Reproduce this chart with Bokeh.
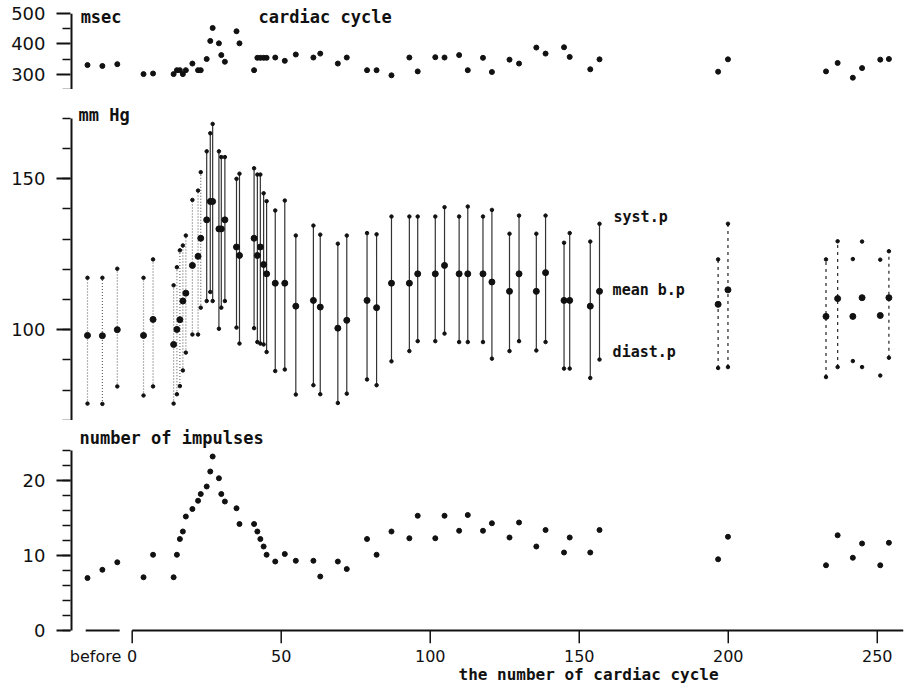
import numpy as np
from bokeh.plotting import figure
from bokeh.layouts import column
from bokeh.models import ColumnDataSource, FixedTicker, Range1d, Label, Title
from bokeh.embed import file_html
from bokeh.resources import INLINE

# ---- data -------------------------------------------------------------
# cardiac cycle number (negative values = cycles recorded "before")
cycle = [-15, -10, -5, 3.8, 7.0, 13.9, 15.0, 16.0, 17.0, 18.0, 20.2, 22.1, 23.0,
         25.0, 26.2, 27.0, 29.1, 29.9, 31.1, 35.0, 36.0, 40.9, 42.0, 43.0, 44.1,
         45.1, 48.0, 51.2, 54.9, 60.8, 63.1, 69.0, 72.0, 78.8, 82.0, 87.0, 93.0,
         95.8, 101.7, 104.8, 109.7, 112.6, 117.7, 120.7, 126.6, 129.8, 135.6,
         138.7, 144.9, 146.8, 153.7, 156.8, 196.6, 199.9, 232.8, 236.7, 241.8,
         244.9, 251.0, 253.9]

# duration of the cardiac cycle, msec
cycle_msec = [330, 327, 333, 300, 302, 300, 313, 313, 300, 313, 335, 313, 313,
              350, 410, 453, 402, 363, 341, 442, 402, 313, 354, 354, 354,
              354, 355, 344, 365, 355, 368, 335, 355, 313, 313, 296, 355,
              309, 356, 355, 363, 313, 354, 307, 348, 335, 388,
              368, 389, 357, 316, 349, 308, 349, 309, 337, 288,
              320, 348, 350]

# blood pressure, mm Hg
syst_p = [117.2, 117.2, 120.2, 117.2, 123.3, 114.7, 120.7, 126.3, 127.9, 131.2, 143.0, 146.1, 152.2,
          159.1, 165.1, 168.2, 159.1, 157.2, 157.2, 150.0, 151.7, 153.5, 151.4, 151.4, 145.2,
          142.6, 139.5, 142.8, 131.2, 134.5, 131.5, 128.5, 131.2, 132.0, 131.6, 137.5, 137.5,
          137.5, 137.5, 140.6, 137.5, 140.8, 137.5, 139.7, 131.8, 137.8, 131.8,
          137.8, 128.8, 132.0, 129.2, 135.1, 123.3, 135.1, 123.3, 129.3, 123.4,
          129.2, 123.2, 126.0]
mean_bp = [98.1, 98.0, 100.0, 98.1, 103.4, 95.1, 100.1, 103.3, 109.5, 112.1, 121.3, 124.3, 130.3,
           136.4, 142.5, 142.5, 133.4, 133.4, 136.4, 127.4, 124.6, 130.3, 124.6, 127.4, 121.6,
           118.5, 115.4, 115.4, 107.8, 109.7, 107.5, 100.5, 103.1, 109.7, 107.3, 115.4, 115.4,
           118.5, 118.5, 121.3, 118.5, 118.5, 118.5, 115.8, 112.7, 118.5, 112.7,
           118.9, 109.7, 109.7, 107.8, 112.7, 108.4, 113.2, 104.4, 110.3, 104.4,
           110.6, 104.7, 110.6]
diast_p = [75.5, 75.4, 81.2, 78.2, 81.2, 75.5, 78.6, 81.3, 86.5, 92.4, 98.4, 98.4, 107.3,
           109.5, 112.5, 109.5, 100.3, 107.3, 109.5, 100.7, 95.4, 100.5, 95.9, 95.4, 95.1,
           92.6, 86.3, 86.8, 78.5, 81.6, 78.6, 75.7, 78.8, 83.5, 81.6, 89.5, 92.9,
           96.2, 96.2, 98.7, 95.9, 95.9, 95.9, 90.4, 92.9, 96.2, 93.1,
           95.9, 87.1, 87.1, 84.0, 90.1, 87.3, 87.6, 84.3, 87.6, 89.6,
           87.6, 84.8, 90.7]

# cycles whose pressure trace between the extremes was not legible
trace_lost = [241.8, 244.9, 251.0]

# number of nerve impulses per cycle
impulses = [7.0, 8.1, 9.1, 7.1, 10.1, 7.1, 10.1, 12.2, 13.2, 15.2, 16.2, 17.3, 18.2,
            19.2, 21.2, 23.2, 20.3, 18.2, 17.2, 16.3, 14.2, 14.2, 13.2, 12.2, 11.2,
            10.1, 9.2, 10.2, 9.3, 9.3, 7.2, 9.2, 8.2, 12.2, 10.1, 13.2, 12.3,
            15.3, 12.3, 15.3, 13.3, 15.4, 13.3, 14.3, 12.4, 14.4, 11.2,
            13.4, 10.4, 12.4, 10.4, 13.4, 9.5, 12.5, 8.7, 12.7, 9.7,
            11.6, 8.7, 11.7]

x_ticks = [0, 50, 100, 150, 200, 250]
before_tick = -12.3

msec_ticks, msec_minor = [300, 400, 500], [250, 350, 450]
bp_ticks, bp_minor = [100, 150], list(range(70, 171, 10))
imp_ticks, imp_minor = [0, 10, 20], list(range(0, 25, 2))

# ---- styling ----------------------------------------------------------
INK = "#111111"
LETTER = "DejaVu Sans Mono"
NUM = "DejaVu Sans"
X_START, X_END = -20.7, 258.8
xr = Range1d(X_START, X_END)

src = ColumnDataSource(dict(cycle=cycle, msec=cycle_msec, syst=syst_p,
                            mean=mean_bp, diast=diast_p, imp=impulses))


def panel(height, y0, y1, bottom, ticks, minor, below=False):
    p = figure(width=905, height=height, x_range=xr, y_range=Range1d(y0, y1),
               output_backend="svg", toolbar_location=None,
               x_axis_location="below" if below else None,
               min_border_left=70, min_border_right=2,
               min_border_top=0, min_border_bottom=bottom)
    p.outline_line_color = None
    p.grid.visible = False
    p.background_fill_color = "white"
    p.border_fill_color = "white"
    ax = p.yaxis[0]
    ax.ticker = FixedTicker(ticks=ticks, minor_ticks=minor)
    ax.axis_line_color = None
    ax.major_tick_out = 14
    ax.major_tick_in = 0
    ax.minor_tick_out = 8
    ax.minor_tick_in = 0
    ax.major_tick_line_width = 2
    ax.minor_tick_line_width = 1.5
    ax.major_tick_line_color = INK
    ax.minor_tick_line_color = INK
    ax.major_label_text_font = NUM
    ax.major_label_text_font_size = "18px"
    ax.major_label_text_color = INK
    ax.major_label_standoff = 11
    # vertical axis line spanning only the tick range (frame edge clips half)
    lo, hi = min(minor + ticks), max(minor + ticks)
    p.segment(x0=[X_START], y0=[lo], x1=[X_START], y1=[hi], line_color=INK, line_width=4)
    return p


def lettering(p, x, y, text, size="17px"):
    p.add_layout(Label(x=x, y=y, text=text, text_font=LETTER, text_font_size=size,
                       text_font_style="bold", text_color=INK,
                       text_baseline="middle", text_align="left"))


# ---- top: cardiac cycle duration ---------------------------------------
p1 = panel(89, 249, 544, 0, msec_ticks, msec_minor)
p1.scatter("cycle", "msec", source=src, size=5, color=INK)
lettering(p1, -17.3, 487.7, "msec")
lettering(p1, 42.4, 487.7, "cardiac cycle")

# ---- middle: blood pressure --------------------------------------------
p2 = panel(331, 69.9, 179.6, 0, bp_ticks, bp_minor)

cyc = np.array(cycle)
lost = np.isin(cyc, trace_lost)
faint = cyc < 24
broken = (cyc > 190) & ~lost
solid = ~faint & ~broken & ~lost


def sub(mask):
    return ColumnDataSource(dict(cycle=cyc[mask], syst=np.array(syst_p)[mask],
                                 diast=np.array(diast_p)[mask]))


p2.segment("cycle", "diast", "cycle", "syst", source=sub(faint),
           line_color="#6a6a6a", line_width=1.2, line_dash="1 2")
p2.segment("cycle", "diast", "cycle", "syst", source=sub(solid),
           line_color="#333333", line_width=1.2)
p2.segment("cycle", "diast", "cycle", "syst", source=sub(broken),
           line_color="#333333", line_width=1.3, line_dash="3 4")
p2.scatter("cycle", "syst", source=src, size=3.5, color=INK)
p2.scatter("cycle", "diast", source=src, size=3.5, color=INK)
p2.scatter("cycle", "mean", source=src, size=6, color=INK)

lettering(p2, -18.0, 171.0, "mm Hg")
lettering(p2, 161.5, 137.2, "syst.p", size="15px")
lettering(p2, 161.2, 113.3, "mean b.p", size="15px")
lettering(p2, 161.2, 92.5, "diast.p", size="15px")

# ---- bottom: number of impulses ----------------------------------------
# the frame reaches a little below zero so the cycle tick marks sit inside it
TICK_DEPTH = -1.73
p3 = panel(264, TICK_DEPTH, 28, 41, imp_ticks, imp_minor, below=True)

xa = p3.xaxis[0]
xa.ticker = FixedTicker(ticks=[before_tick] + x_ticks, minor_ticks=[])
xa.axis_line_color = None
xa.major_tick_line_color = None
xa.major_tick_out = 0
xa.major_tick_in = 0
xa.major_label_overrides = {before_tick: "before"}
xa.major_label_text_font = NUM
xa.major_label_text_font_size = "16px"
xa.major_label_text_color = INK
xa.major_label_standoff = 3

p3.add_layout(Title(text="the number of cardiac cycle", align="left", offset=388,
                    text_font=LETTER, text_font_size="16px", text_font_style="bold",
                    text_color=INK, standoff=-12), "below")

# baseline: a short piece under the "before" cycles, then the running count
before = cyc[cyc < 0]
p3.segment(x0=[before.min() - 0.6, 0], y0=[0, 0],
           x1=[before.max() + 0.8, X_END], y1=[0, 0],
           line_color=INK, line_width=2)
# tick marks hanging from the baseline
p3.segment(x0=x_ticks, y0=[0] * len(x_ticks), x1=x_ticks, y1=[TICK_DEPTH] * len(x_ticks),
           line_color=INK, line_width=1.5)

p3.scatter("cycle", "imp", source=src, size=5, color=INK)
lettering(p3, -17.7, 25.7, "number of impulses")

layout = column(p1, p2, p3, spacing=0)
open("out.html", "w").write(file_html(layout, INLINE))
